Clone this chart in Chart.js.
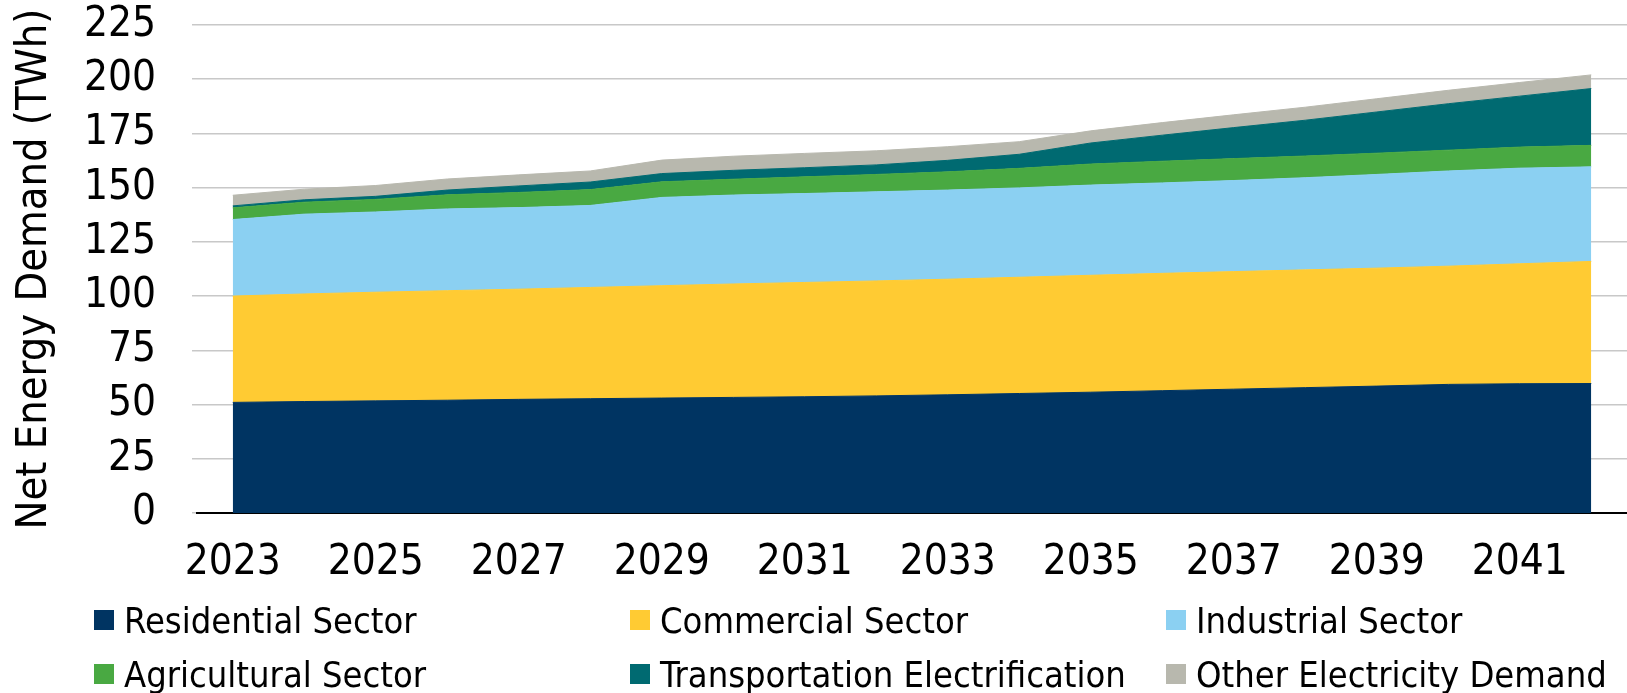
<!DOCTYPE html>
<html>
<head>
<meta charset="utf-8">
<script src="https://cdn.jsdelivr.net/npm/chart.js@4.4.1/dist/chart.umd.min.js"></script>
<style>
    html, body { margin: 0; padding: 0; background: #fff; }
    #wrap { position: relative; width: 1627px; height: 693px; }
    #legend { position: absolute; left: 0; top: 0; font-family: 'DejaVu Sans Condensed', 'DejaVu Sans', sans-serif; font-size: 36px; color: #000; }
    .item { position: absolute; display: flex; align-items: center; white-space: nowrap; height: 40px; }
    .box { width: 20px; height: 20px; margin-right: 10px; }
</style>
</head>
<body>
<div id="wrap">
    <canvas id="myChart" width="1627" height="693"></canvas>
    <div id="legend"></div>
</div>
<script>
var years = [2023, 2024, 2025, 2026, 2027, 2028, 2029, 2030, 2031, 2032,
    2033, 2034, 2035, 2036, 2037, 2038, 2039, 2040, 2041, 2042];
var labeledYears = [2023, 2025, 2027, 2029, 2031, 2033, 2035, 2037, 2039, 2041];
var yTicks = [0, 25, 50, 75, 100, 125, 150, 175, 200, 225];

var residential = [51.0, 51.4, 51.7, 52.0, 52.4, 52.7, 53.0, 53.3, 53.6, 54.0, 54.5, 55.1, 55.7, 56.4, 57.1, 57.8, 58.5, 59.3, 59.6, 59.7];
var commercial = [49.0, 49.6, 50.1, 50.5, 50.8, 51.3, 51.8, 52.3, 52.7, 53.0, 53.3, 53.6, 53.9, 54.1, 54.2, 54.3, 54.4, 54.5, 55.3, 56.3];
var industrial = [35.3, 36.8, 37.0, 37.7, 37.6, 37.8, 40.7, 41.0, 41.0, 41.1, 41.1, 41.2, 41.6, 41.7, 42.0, 42.5, 43.2, 43.9, 44.1, 43.6];
var agricultural = [5.4, 5.5, 5.8, 6.5, 7.0, 7.3, 7.2, 7.3, 7.7, 8.0, 8.4, 9.0, 9.7, 10.0, 10.1, 10.0, 9.8, 9.6, 9.7, 9.9];
var transportation = [0.9, 1.1, 1.4, 2.2, 3.0, 3.5, 3.8, 4.1, 4.2, 4.4, 5.3, 6.5, 9.7, 12.0, 14.3, 16.5, 19.0, 21.4, 23.5, 26.2];
var other = [4.9, 4.9, 5.0, 5.1, 5.1, 5.1, 6.2, 6.5, 6.6, 6.5, 6.3, 5.8, 5.6, 5.8, 5.9, 6.0, 6.1, 6.2, 6.3, 6.3];

var seriesNames = ['Residential Sector', 'Commercial Sector', 'Industrial Sector',
    'Agricultural Sector', 'Transportation Electrification', 'Other Electricity Demand'];
var seriesValues = [residential, commercial, industrial, agricultural, transportation, other];
var seriesColors = ['#003462', '#FFCB33', '#8BD0F2', '#49A942', '#006A71', '#B8B8AE'];

var fontFamily = "'DejaVu Sans Condensed', 'DejaVu Sans', sans-serif";

const data = {
    labels: years,
    datasets: seriesNames.map(function (name, i) {
        return {
            label: name,
            data: seriesValues[i],
            backgroundColor: seriesColors[i],
            borderColor: seriesColors[i],
            borderWidth: 1,
            pointRadius: 0,
            tension: 0,
            fill: i === 0 ? 'origin' : '-1',
        };
    })
};

const config = {
    type: 'line',
    data: data,
    options: {
        responsive: false,
        animation: false,
        layout: { padding: { top: 25, left: 0, right: 0, bottom: 0 } },
        plugins: {
            legend: { display: false },
            tooltip: { enabled: false },
        },
        scales: {
            x: {
                offset: true,
                grid: { display: false, drawTicks: false },
                border: { display: true, color: '#000', width: 2 },
                ticks: {
                    autoSkip: false,
                    maxRotation: 0,
                    padding: 25,
                    color: '#000',
                    font: { family: fontFamily, size: 42 },
                    callback: function (val, idx) {
                        var y = years[idx];
                        return labeledYears.indexOf(y) >= 0 ? String(y) : '';
                    }
                },
                afterFit: function (scale) { scale.height = 180; }
            },
            y: {
                stacked: true,
                min: 0,
                max: 225,
                afterBuildTicks: function (scale) {
                    scale.ticks = yTicks.map(function (v) { return { value: v }; });
                },
                grid: { color: '#C8C8C8', lineWidth: 1.5, tickLength: 5 },
                border: { display: false },
                ticks: {
                    autoSkip: false,
                    padding: 36,
                    color: '#000',
                    font: { family: fontFamily, size: 42 },
                },
                title: {
                    display: true,
                    text: 'Net Energy Demand (TWh)',
                    color: '#000',
                    padding: { top: 9, bottom: 0 },
                    font: { family: fontFamily, size: 43 },
                },
                afterFit: function (scale) {
                    scale.width = 197;
                    scale.paddingTop = 0;
                    scale.paddingBottom = 0;
                }
            }
        }
    }
};

const myChart = new Chart(
    document.getElementById('myChart'),
    config
);

// legend in three columns, two rows like the original
var legendCols = [94, 630, 1166];
var legendRows = [620, 674];
var legend = document.getElementById('legend');
seriesNames.forEach(function (name, i) {
    var item = document.createElement('div');
    item.className = 'item';
    item.style.left = legendCols[i % 3] + 'px';
    item.style.top = (legendRows[Math.floor(i / 3)] - 20) + 'px';
    var box = document.createElement('span');
    box.className = 'box';
    box.style.background = seriesColors[i];
    item.appendChild(box);
    item.appendChild(document.createTextNode(name));
    legend.appendChild(item);
});
</script>
</body>
</html>
